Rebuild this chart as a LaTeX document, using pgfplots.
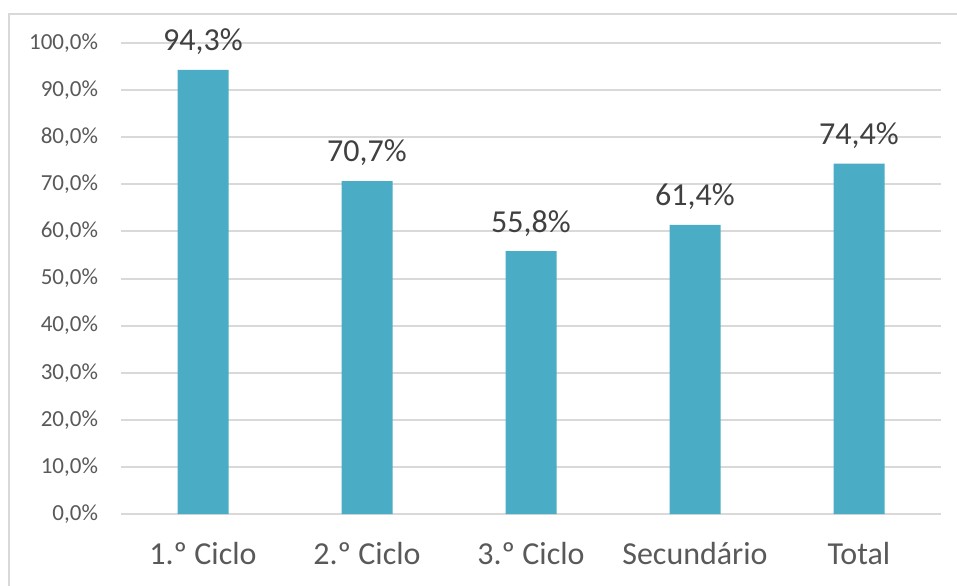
\documentclass[border=0pt]{standalone}
\usepackage{pgfplots}
\pgfplotsset{compat=1.18}
\usepackage{fontspec}
\setmainfont{Carlito}
\definecolor{baraqua}{RGB}{75,172,198}
\definecolor{gridgray}{RGB}{217,217,217}
\definecolor{ticktext}{RGB}{89,89,89}
\definecolor{labeltext}{RGB}{64,64,64}

\begin{document}
\begin{tikzpicture}
\useasboundingbox (0,0) rectangle (478.5pt,292.5pt);
\draw[gridgray,line width=1pt] (4.5pt,-10pt) -- (4.5pt,285.5pt) -- (490pt,285.5pt);
\begin{axis}[
  at={(60.5pt,35.5pt)},
  anchor=south west,
  scale only axis,
  width=410pt,
  height=235.5pt,
  xmin=-0.5, xmax=4.5,
  ymin=0, ymax=100,
  ytick={0,10,...,100},
  xtick={0,1,2,3,4},
  xticklabels={1.º Ciclo,2.º Ciclo,3.º Ciclo,Secundário,Total},
  yticklabel={\pgfmathprintnumber[fixed,fixed zerofill,precision=1,use comma]{\tick}\%},
  /pgf/number format/assume math mode=true,
  axis line style={draw=none},
  ymajorgrids=true,
  grid style={gridgray,line width=1pt},
  major tick length=0pt,
  yticklabel style={font=\fontsize{11.5}{13}\selectfont,text=ticktext,xshift=-8pt},
  xticklabel style={font=\fontsize{16}{18}\selectfont,text=ticktext,yshift=-10.5pt},
  clip=false,
]
\addplot[
  ybar,
  bar width=25.5pt,
  fill=baraqua,
  draw=none,
  nodes near coords={\pgfmathprintnumber[fixed,fixed zerofill,precision=1,use comma]{\pgfplotspointmeta}\%},
  nodes near coords style={font=\fontsize{16}{18}\selectfont,text=labeltext,anchor=south,yshift=4pt},
] coordinates {
  (0,94.3)
  (1,70.7)
  (2,55.8)
  (3,61.4)
  (4,74.4)
};
\end{axis}
\end{tikzpicture}
\end{document}
